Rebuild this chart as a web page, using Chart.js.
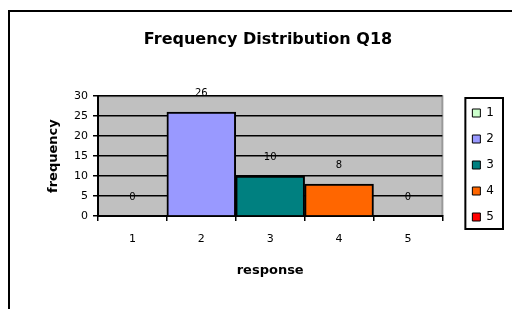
<!DOCTYPE html>
<html>
<head>
<meta charset="utf-8">
<script src="https://cdn.jsdelivr.net/npm/chart.js@4.4.1/dist/chart.umd.min.js"></script>
<style>
  html, body { margin: 0; background: #fff; overflow: hidden; }
  canvas { display: block; }
</style>
</head>
<body>
<canvas id="myChart" width="515" height="309"></canvas>
<script>
var categories = ["1", "2", "3", "4", "5"];
var frequency = [0, 26, 10, 8, 0];
var barColors = ["#ccffcc", "#9999ff", "#008080", "#ff6600", "#ff0000"];
var yTicks = [0, 5, 10, 15, 20, 25, 30];

// outer chart frame (left + top edges only visible) and grey plot area
var plotBack = {
  id: 'plotBack',
  beforeDraw: function(chart) {
    var a = chart.chartArea, c = chart.ctx;
    c.save();
    c.strokeStyle = '#000';
    c.lineWidth = 2;
    c.beginPath();
    c.moveTo(9, chart.height);
    c.lineTo(9, 11);
    c.lineTo(chart.width - 3, 11);
    c.stroke();
    c.fillStyle = '#c0c0c0';
    c.fillRect(a.left, a.top, a.right - a.left, a.bottom - a.top);
    c.strokeStyle = '#999999';
    c.beginPath();
    c.moveTo(a.left, a.top);
    c.lineTo(a.right, a.top);
    c.lineTo(a.right, a.bottom);
    c.stroke();
    c.restore();
  }
};

// value labels above each bar
var barValues = {
  id: 'barValues',
  afterDatasetsDraw: function(chart) {
    var c = chart.ctx;
    var meta = chart.getDatasetMeta(0);
    c.save();
    c.font = '10px "DejaVu Sans"';
    c.fillStyle = '#000';
    c.textAlign = 'center';
    c.textBaseline = 'middle';
    meta.data.forEach(function(bar, i) {
      c.fillText(frequency[i], bar.x, bar.y - 19);
    });
    c.restore();
  }
};

// box round the legend
var legendBox = {
  id: 'legendBox',
  afterDraw: function(chart) {
    var hb = chart.legend.legendHitBoxes;
    if (!hb || !hb.length) return;
    var first = hb[0], last = hb[hb.length - 1];
    var c = chart.ctx;
    c.save();
    c.strokeStyle = '#000';
    c.lineWidth = 2;
    c.strokeRect(first.left - 7, first.top - 9, first.width + 16, last.top + last.height - first.top + 15);
    c.restore();
  }
};

var ctx = document.getElementById("myChart").getContext('2d');
var myChart = new Chart(ctx, {
  type: 'bar',
  data: {
    labels: categories,
    datasets: [{
      label: 'frequency',
      data: frequency,
      backgroundColor: barColors,
      borderColor: '#000',
      borderWidth: 2,
      barPercentage: 1,
      categoryPercentage: 1
    }]
  },
  options: {
    responsive: false,
    animation: false,
    events: [],
    layout: { padding: { left: 32, right: 11, top: 21, bottom: 0 } },
    plugins: {
      title: {
        display: true,
        text: 'Frequency Distribution Q18',
        color: '#000',
        font: { family: '"DejaVu Sans"', size: 16, weight: 'bold' },
        padding: { top: 9, bottom: 47 }
      },
      legend: {
        position: 'right',
        labels: {
          color: '#000',
          font: { family: '"DejaVu Sans"', size: 12 },
          boxWidth: 8,
          boxHeight: 8,
          padding: 14,
          generateLabels: function(chart) {
            return categories.map(function(c, i) {
              return { text: c, fillStyle: barColors[i], strokeStyle: '#000', lineWidth: 1, index: i };
            });
          }
        }
      },
      tooltip: { enabled: false }
    },
    scales: {
      x: {
        grid: { display: true, drawOnChartArea: false, color: '#000', tickLength: 5, lineWidth: 1.5 },
        border: { color: '#000', width: 2 },
        ticks: { color: '#000', padding: 12, font: { family: '"DejaVu Sans"', size: 11 } },
        title: {
          display: true, text: 'response', color: '#000',
          font: { family: '"DejaVu Sans"', size: 13, weight: 'bold' },
          padding: { top: 0, bottom: 31 }
        },
        afterFit: function(s) { s.height = 93; }
      },
      y: {
        min: 0,
        max: 30,
        afterBuildTicks: function(s) { s.ticks = yTicks.map(function(v) { return { value: v }; }); },
        grid: { color: '#000', lineWidth: 1.5, tickLength: 5 },
        border: { color: '#000', width: 2 },
        ticks: { color: '#000', padding: 5, font: { family: '"DejaVu Sans"', size: 11 } },
        title: {
          display: true, text: 'frequency', color: '#000',
          font: { family: '"DejaVu Sans"', size: 13, weight: 'bold' },
          padding: { top: 14, bottom: 0 }
        },
        afterFit: function(s) { s.width = 66; }
      },
      gap: {
        position: 'right',
        display: true,
        grid: { display: false, drawOnChartArea: false },
        border: { display: false },
        ticks: { display: false },
        afterFit: function(s) { s.width = 16; }
      }
    }
  },
  plugins: [plotBack, barValues, legendBox]
});
</script>
</body>
</html>
